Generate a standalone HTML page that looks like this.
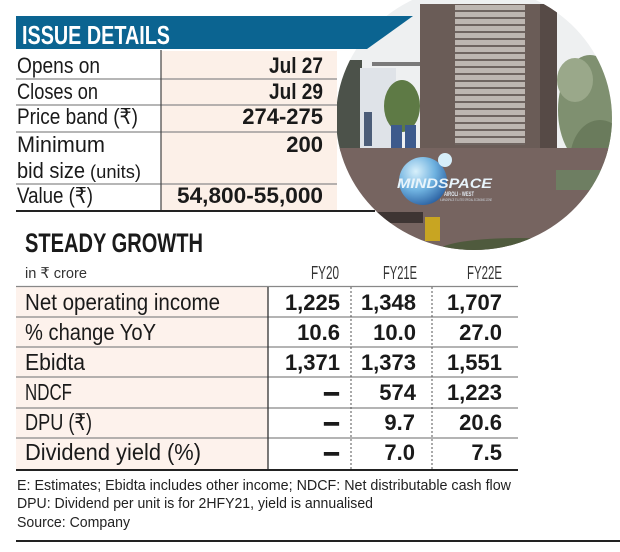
<!DOCTYPE html>
<html><head><meta charset="utf-8"><style>
html,body{margin:0;padding:0;background:#fff;}
svg{display:block;}
text{font-family:"Liberation Sans","DejaVu Sans",sans-serif;}
</style></head><body>
<svg width="620" height="552" viewBox="0 0 620 552" xmlns="http://www.w3.org/2000/svg">
<defs>
<clipPath id="ph"><ellipse cx="474" cy="118" rx="138" ry="132"/></clipPath>
<pattern id="stripes" x="0" y="5" width="10" height="7" patternUnits="userSpaceOnUse">
<rect width="10" height="7" fill="#bdb6b1"/><rect y="5" width="10" height="2" fill="#6e6460"/>
</pattern>
<radialGradient id="sph" cx="0.35" cy="0.3" r="0.8">
<stop offset="0" stop-color="#d8f0fb"/><stop offset="0.5" stop-color="#6fb2e0"/><stop offset="1" stop-color="#23579a"/>
</radialGradient>
</defs>

<!-- photo -->
<g clip-path="url(#ph)">
<rect x="330" y="-20" width="290" height="280" fill="#eef0f1"/>
<ellipse cx="590" cy="110" rx="32" ry="55" fill="#7f9070"/>
<ellipse cx="600" cy="160" rx="30" ry="40" fill="#6a7b5c"/>
<ellipse cx="575" cy="80" rx="18" ry="22" fill="#9aa88a"/>
<rect x="334" y="60" width="28" height="92" fill="#4c524a"/>
<rect x="360" y="68" width="36" height="82" fill="#dfe3e8"/>
<rect x="364" y="112" width="8" height="34" fill="#4c5d78"/>
<rect x="372" y="62" width="50" height="4" fill="#7a7a7a"/>
<ellipse cx="402" cy="106" rx="18" ry="26" fill="#5e7a45"/>
<rect x="391" y="125" width="11" height="24" fill="#3d5a8c"/>
<rect x="405" y="125" width="11" height="24" fill="#3d5a8c"/>
<rect x="420" y="4" width="137" height="148" fill="#6a5c57"/>
<rect x="455" y="5" width="70" height="140" fill="url(#stripes)"/>
<rect x="540" y="4" width="17" height="148" fill="#564a46"/>
<rect x="328" y="148" width="280" height="112" fill="#766460"/>
<rect x="556" y="170" width="60" height="20" fill="#6e7e62"/>
<rect x="335" y="212" width="88" height="11" fill="#3e3533"/>
<rect x="340" y="222" width="40" height="30" fill="#5c4c48"/>
<rect x="425" y="217" width="15" height="24" fill="#c8a522"/>
<ellipse cx="520" cy="250" rx="80" ry="12" fill="#4f5a3d"/>
<circle cx="423" cy="181" r="24" fill="url(#sph)"/>
<circle cx="445" cy="160" r="7" fill="#d6eefa"/>
<text x="397" y="188" font-size="14" font-weight="bold" font-style="italic" fill="#e8f4fb" textLength="95" lengthAdjust="spacingAndGlyphs">MINDSPACE</text>
<text x="444" y="196" font-size="6" font-weight="bold" fill="#e0e8f0" textLength="30" lengthAdjust="spacingAndGlyphs">AIROLI - WEST</text>
<text x="440" y="201" font-size="4" fill="#d0d8e0" textLength="52" lengthAdjust="spacingAndGlyphs">A MINDSPACE IT &amp; ITES SPECIAL ECONOMIC ZONE</text>
</g>

<!-- ISSUE DETAILS -->
<rect x="161" y="51" width="176" height="159" fill="#fcf0e8"/>
<polygon points="16,16 413,16 367,49 16,49" fill="#0b6491"/>
<text x="22" y="44" font-size="26" font-weight="bold" fill="#ffffff" textLength="148" lengthAdjust="spacingAndGlyphs">ISSUE DETAILS</text>
<g stroke="#8a8a8a" stroke-width="1.2">
<line x1="16" y1="79" x2="337" y2="79"/>
<line x1="16" y1="105" x2="337" y2="105"/>
<line x1="16" y1="132" x2="337" y2="132"/>
<line x1="16" y1="184" x2="337" y2="184"/>
</g>
<line x1="161" y1="50" x2="161" y2="211" stroke="#444" stroke-width="1.2"/>
<rect x="16" y="210" width="359" height="2" fill="#222"/>

<g font-size="22" fill="#1a1a1a">
<text x="17" y="73" textLength="83" lengthAdjust="spacingAndGlyphs">Opens on</text>
<text x="17" y="99" textLength="81" lengthAdjust="spacingAndGlyphs">Closes on</text>
<text x="17" y="124" textLength="121" lengthAdjust="spacingAndGlyphs">Price band (₹)</text>
<text x="17" y="152" textLength="88" lengthAdjust="spacingAndGlyphs">Minimum</text>
<text x="17" y="178" textLength="68" lengthAdjust="spacingAndGlyphs">bid size</text>
<text x="90" y="178" font-size="18" textLength="51" lengthAdjust="spacingAndGlyphs">(units)</text>
<text x="17" y="203" textLength="76" lengthAdjust="spacingAndGlyphs">Value (₹)</text>
</g>
<g font-size="22" font-weight="bold" fill="#1a1a1a">
<text x="269" y="73" textLength="54" lengthAdjust="spacingAndGlyphs">Jul 27</text>
<text x="269" y="99" textLength="54" lengthAdjust="spacingAndGlyphs">Jul 29</text>
<text x="323" y="124" text-anchor="end">274-275</text>
<text x="323" y="152" text-anchor="end">200</text>
<text x="177" y="203" textLength="146" lengthAdjust="spacingAndGlyphs">54,800-55,000</text>
</g>

<!-- STEADY GROWTH -->
<text x="25" y="252" font-size="27" font-weight="bold" fill="#1a1a1a" textLength="178" lengthAdjust="spacingAndGlyphs">STEADY GROWTH</text>
<text x="25" y="278" font-size="15" fill="#333" textLength="62" lengthAdjust="spacingAndGlyphs">in ₹ crore</text>
<g font-size="18" fill="#333">
<text x="311" y="279" textLength="28" lengthAdjust="spacingAndGlyphs">FY20</text>
<text x="383" y="279" textLength="34" lengthAdjust="spacingAndGlyphs">FY21E</text>
<text x="467" y="279" textLength="35" lengthAdjust="spacingAndGlyphs">FY22E</text>
</g>
<rect x="16" y="287" width="252" height="183" fill="#fdf2ec"/>
<g stroke="#888" stroke-width="1.2">
<line x1="16" y1="286.5" x2="518" y2="286.5"/>
<line x1="16" y1="317" x2="518" y2="317"/>
<line x1="16" y1="347" x2="518" y2="347"/>
<line x1="16" y1="377" x2="518" y2="377"/>
<line x1="16" y1="408" x2="518" y2="408"/>
<line x1="16" y1="438" x2="518" y2="438"/>
</g>
<line x1="268" y1="287" x2="268" y2="470" stroke="#333" stroke-width="1.3"/>
<line x1="351" y1="287" x2="351" y2="470" stroke="#555" stroke-width="1" stroke-dasharray="2,2"/>
<line x1="432" y1="287" x2="432" y2="470" stroke="#555" stroke-width="1" stroke-dasharray="2,2"/>
<rect x="16" y="469" width="502" height="2" fill="#222"/>

<g font-size="23" fill="#1a1a1a">
<text x="25" y="310" textLength="195" lengthAdjust="spacingAndGlyphs">Net operating income</text>
<text x="25" y="340" textLength="131" lengthAdjust="spacingAndGlyphs">% change YoY</text>
<text x="25" y="370" textLength="60" lengthAdjust="spacingAndGlyphs">Ebidta</text>
<text x="25" y="400" textLength="47" lengthAdjust="spacingAndGlyphs">NDCF</text>
<text x="25" y="430" textLength="67" lengthAdjust="spacingAndGlyphs">DPU (₹)</text>
<text x="25" y="460" textLength="176" lengthAdjust="spacingAndGlyphs">Dividend yield (%)</text>
</g>
<g font-size="22" font-weight="bold" fill="#1a1a1a" text-anchor="end">
<text x="340" y="310">1,225</text>
<text x="416" y="310">1,348</text>
<text x="502" y="310">1,707</text>
<text x="340" y="340">10.6</text>
<text x="416" y="340">10.0</text>
<text x="502" y="340">27.0</text>
<text x="340" y="370">1,371</text>
<text x="416" y="370">1,373</text>
<text x="502" y="370">1,551</text>
<text x="416" y="400">574</text>
<text x="502" y="400">1,223</text>
<text x="415" y="430">9.7</text>
<text x="502" y="430">20.6</text>
<text x="415" y="460">7.0</text>
<text x="502" y="460">7.5</text>
</g>
<g font-size="22" font-weight="bold" fill="#1a1a1a" stroke="#1a1a1a" stroke-width="1.6">
<text x="324" y="400" textLength="15" lengthAdjust="spacingAndGlyphs">–</text>
<text x="324" y="430" textLength="15" lengthAdjust="spacingAndGlyphs">–</text>
<text x="324" y="460" textLength="15" lengthAdjust="spacingAndGlyphs">–</text>
</g>

<g font-size="15" fill="#222">
<text x="17" y="490" textLength="494" lengthAdjust="spacingAndGlyphs">E: Estimates; Ebidta includes other income; NDCF: Net distributable cash flow</text>
<text x="17" y="508" textLength="356" lengthAdjust="spacingAndGlyphs">DPU: Dividend per unit is for 2HFY21, yield is annualised</text>
<text x="17" y="527" textLength="113" lengthAdjust="spacingAndGlyphs">Source: Company</text>
</g>
<rect x="16" y="540" width="604" height="2" fill="#222"/>
</svg>
</body></html>
